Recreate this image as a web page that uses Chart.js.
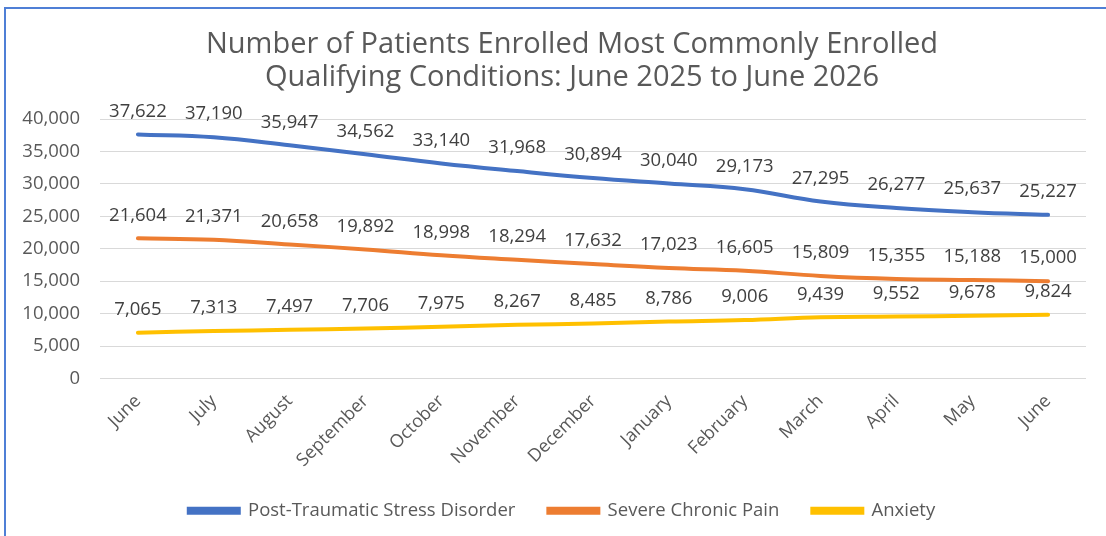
<!DOCTYPE html>
<html>
<head>
<meta charset="utf-8">
<script src="https://cdn.jsdelivr.net/npm/chart.js@4"></script>
<style>
  body { margin: 0; background: #fff; }
  #wrap { position: relative; width: 1106px; height: 536px; }
  #wrap:before { content: ''; position: absolute; left: 4px; top: 7px; right: 0; bottom: 0;
    border-left: 2px solid #4f7fd6; border-top: 2px solid #4f7fd6; pointer-events: none; }
</style>
</head>
<body>
<div id="wrap"><canvas id="myChart" width="1106" height="536"></canvas></div>
<script>
const months = ['June', 'July', 'August', 'September', 'October', 'November', 'December',
  'January', 'February', 'March', 'April', 'May', 'June'];
const ptsd = [37622, 37190, 35947, 34562, 33140, 31968, 30894, 30040, 29173, 27295, 26277, 25637, 25227];
const chronicPain = [21604, 21371, 20658, 19892, 18998, 18294, 17632, 17023, 16605, 15809, 15355, 15188, 15000];
const anxiety = [7065, 7313, 7497, 7706, 7975, 8267, 8485, 8786, 9006, 9439, 9552, 9678, 9824];
const titleLines = ['Number of Patients Enrolled Most Commonly Enrolled', 'Qualifying Conditions: June 2025 to June 2026'];

const FONT = '"Open Sans", "Noto Sans", sans-serif';
const grey = '#595959';

/* value labels above each point + title, legend nudged right */
const pointLabels = {
  id: 'pointLabels',
  afterLayout(chart) {
    if (chart.legend) {
      chart.legend.left += 38;
    }
  },
  afterDatasetsDraw(chart) {
    const c = chart.ctx;
    c.save();
    c.font = '18.5px ' + FONT;
    c.fillStyle = '#404040';
    c.textAlign = 'center';
    c.textBaseline = 'middle';
    chart.data.datasets.forEach((ds, i) => {
      chart.getDatasetMeta(i).data.forEach((pt, j) => {
        c.fillText(ds.data[j].toLocaleString('en-US'), pt.x, pt.y - 23);
      });
    });
    c.font = '29px ' + FONT;
    c.fillStyle = grey;
    c.fillText(titleLines[0], 572, 45);
    c.fillText(titleLines[1], 572, 78);
    c.restore();
  }
};

const ctx = document.getElementById('myChart');

new Chart(ctx, {
  type: 'line',
  data: {
    labels: months,
    datasets: [
      { label: 'Post-Traumatic Stress Disorder', data: ptsd, borderColor: '#4472C4', backgroundColor: '#4472C4' },
      { label: 'Severe Chronic Pain', data: chronicPain, borderColor: '#ED7D31', backgroundColor: '#ED7D31' },
      { label: 'Anxiety', data: anxiety, borderColor: '#FFC000', backgroundColor: '#FFC000' }
    ]
  },
  options: {
    responsive: false,
    animation: false,
    layout: { padding: { left: 0, right: 20, top: 119, bottom: 6 } },
    elements: {
      line: { borderWidth: 4, tension: 0.4, borderCapStyle: 'round' },
      point: { radius: 0 }
    },
    scales: {
      x: {
        offset: true,
        grid: { display: false },
        border: { display: false },
        ticks: { color: grey, font: { family: FONT, size: 18 }, minRotation: 45, maxRotation: 45, padding: 4 },
        afterFit(scale) { scale.height = 90; }
      },
      y: {
        min: 0,
        max: 40000,
        grid: { color: '#d9d9d9', drawTicks: false },
        border: { display: false },
        ticks: {
          stepSize: 5000,
          color: grey,
          font: { family: FONT, size: 18.5 },
          padding: 20,
          callback: v => v.toLocaleString('en-US')
        },
        afterFit(scale) { scale.width = 100; }
      }
    },
    plugins: {
      title: { display: false },
      legend: {
        position: 'bottom',
        labels: {
          color: grey,
          font: { family: FONT, size: 18.5 },
          boxWidth: 50,
          boxHeight: 4,
          padding: 33
        }
      },
      tooltip: { enabled: false }
    }
  },
  plugins: [pointLabels]
});
</script>
</body>
</html>
